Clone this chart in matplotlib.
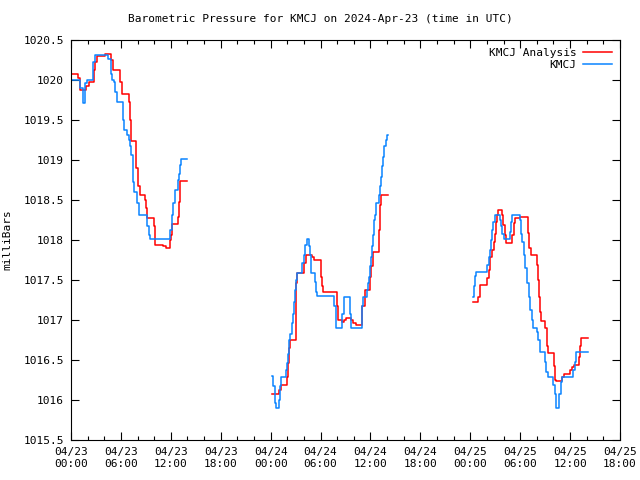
import numpy as np
import matplotlib.pyplot as plt

# hours since 2024-04-23 00:00 UTC, pressure in mbar
obs_t1 = [0.00, 1.08, 1.42, 1.68, 1.88, 2.62, 2.68, 2.85, 4.50, 4.78, 4.90, 5.21, 5.29,
          5.57, 6.20, 6.40, 6.68, 7.00, 7.09, 7.21, 7.41, 7.48, 7.57, 7.89, 7.97, 8.20,
          9.15, 9.35, 9.50, 11.90, 12.10, 12.25, 12.45, 12.90, 13.00, 13.10, 13.20, 13.90]
obs_p1 = [1020.00, 1019.90, 1019.71, 1019.96, 1020.00, 1020.09, 1020.23, 1020.31, 1020.26,
          1020.08, 1020.00, 1019.98, 1019.85, 1019.72, 1019.50, 1019.38, 1019.31, 1019.25,
          1019.17, 1019.06, 1018.92, 1018.73, 1018.60, 1018.56, 1018.46, 1018.31, 1018.17,
          1018.06, 1018.01, 1018.12, 1018.31, 1018.46, 1018.62, 1018.75, 1018.83, 1018.94,
          1019.01, 1019.01]
ana_t1 = [0.00, 0.90, 1.08, 1.80, 2.15, 2.72, 2.92, 3.10, 4.10, 4.82, 5.00, 5.93, 6.15,
          6.92, 7.10, 7.20, 7.85, 8.10, 8.30, 8.85, 8.97, 9.10, 9.95, 10.10, 11.00, 11.40,
          11.90, 12.00, 12.10, 12.85, 12.95, 13.05, 13.15, 13.90]
ana_p1 = [1020.08, 1020.02, 1019.88, 1019.92, 1019.98, 1020.12, 1020.23, 1020.30, 1020.33,
          1020.25, 1020.12, 1019.98, 1019.83, 1019.73, 1019.50, 1019.24, 1018.90, 1018.67,
          1018.56, 1018.50, 1018.40, 1018.27, 1018.17, 1017.94, 1017.92, 1017.90, 1018.00,
          1018.06, 1018.20, 1018.29, 1018.48, 1018.62, 1018.74, 1018.74]

obs_t2 = [24.19, 24.31, 24.52, 24.64, 24.98, 25.12, 25.24, 25.81, 25.92, 26.04, 26.16, 26.24,
          26.36, 26.52, 26.64, 26.76, 26.92, 27.04, 27.12, 27.80, 27.98, 28.18, 28.32, 28.61,
          28.75, 28.85, 28.91, 29.33, 29.48, 29.57, 31.65, 31.80, 31.91, 32.61, 32.79, 33.53,
          33.71, 35.01, 35.13, 35.54, 35.70, 35.88, 36.00, 36.09, 36.21, 36.30, 36.42, 36.49,
          36.72, 37.02, 37.20, 37.30, 37.41, 37.55, 37.68, 37.84, 38.00, 38.10]
obs_p2 = [1016.30, 1016.17, 1015.96, 1015.90, 1016.00, 1016.17, 1016.29, 1016.37, 1016.46,
          1016.58, 1016.71, 1016.75, 1016.83, 1016.96, 1017.08, 1017.23, 1017.38, 1017.50,
          1017.59, 1017.71, 1017.81, 1017.94, 1018.01, 1017.92, 1017.81, 1017.71, 1017.59,
          1017.48, 1017.35, 1017.30, 1017.17, 1017.02, 1016.90, 1017.08, 1017.29, 1017.08,
          1016.90, 1017.17, 1017.29, 1017.38, 1017.46, 1017.54, 1017.67, 1017.79, 1017.92,
          1018.06, 1018.25, 1018.31, 1018.46, 1018.56, 1018.67, 1018.79, 1018.92, 1019.04,
          1019.17, 1019.25, 1019.31, 1019.31]
ana_t2 = [24.19, 25.00, 25.20, 25.93, 26.05, 26.20, 26.32, 27.01, 27.05, 27.15, 28.00, 28.25,
          29.00, 29.21, 30.02, 30.20, 30.32, 31.94, 32.15, 32.54, 32.81, 33.05, 33.71, 33.95,
          34.26, 35.04, 35.34, 35.94, 36.12, 36.30, 37.00, 37.10, 37.19, 37.28, 38.14]
ana_p2 = [1016.08, 1016.12, 1016.19, 1016.29, 1016.46, 1016.65, 1016.75, 1017.10, 1017.46,
          1017.59, 1017.71, 1017.81, 1017.79, 1017.75, 1017.54, 1017.42, 1017.35, 1017.17,
          1017.00, 1016.98, 1017.00, 1017.03, 1017.00, 1016.96, 1016.94, 1017.17, 1017.38,
          1017.54, 1017.67, 1017.85, 1018.12, 1018.29, 1018.44, 1018.56, 1018.56]

obs_t3 = [48.32, 48.44, 48.59, 48.71, 50.04, 50.20, 50.32, 50.48, 50.66, 50.78, 50.94, 51.60,
          51.74, 51.86, 52.04, 52.73, 52.85, 52.98, 53.93, 54.09, 54.27, 54.45, 54.63, 54.81,
          55.05, 55.23, 55.41, 55.59, 55.97, 56.17, 56.37, 56.97, 57.15, 57.33, 57.97, 58.17,
          58.33, 58.69, 58.86, 59.04, 60.37, 60.55, 60.72, 62.18]
obs_p3 = [1017.29, 1017.42, 1017.55, 1017.60, 1017.69, 1017.79, 1017.88, 1018.00, 1018.12,
          1018.23, 1018.31, 1018.25, 1018.17, 1018.08, 1018.01, 1018.10, 1018.23, 1018.31,
          1018.25, 1018.08, 1017.98, 1017.81, 1017.65, 1017.46, 1017.29, 1017.13, 1017.00,
          1016.90, 1016.85, 1016.75, 1016.60, 1016.48, 1016.35, 1016.29, 1016.19, 1016.08,
          1015.90, 1016.08, 1016.23, 1016.29, 1016.37, 1016.48, 1016.60, 1016.60]
ana_t3 = [48.32, 48.98, 49.16, 50.00, 50.24, 50.42, 50.60, 50.82, 50.96, 51.08, 51.20, 51.32,
          51.86, 51.98, 52.16, 52.28, 53.06, 53.24, 53.43, 53.97, 54.97, 55.11, 55.29, 56.01,
          56.13, 56.21, 56.41, 56.49, 57.01, 57.19, 57.33, 58.09, 58.23, 58.35, 59.01, 59.25,
          60.04, 60.28, 60.46, 61.12, 61.24, 61.34, 62.18]
ana_p3 = [1017.22, 1017.29, 1017.44, 1017.52, 1017.62, 1017.79, 1017.88, 1017.98, 1018.08,
          1018.23, 1018.31, 1018.38, 1018.31, 1018.19, 1018.06, 1017.96, 1018.06, 1018.21,
          1018.27, 1018.29, 1018.09, 1017.90, 1017.81, 1017.69, 1017.50, 1017.29, 1017.10,
          1016.99, 1016.90, 1016.67, 1016.59, 1016.42, 1016.25, 1016.24, 1016.29, 1016.33,
          1016.37, 1016.41, 1016.44, 1016.54, 1016.67, 1016.78, 1016.78]

xtick_hours = list(range(0, 67, 6))
xtick_labels = ['04/23\n00:00', '04/23\n06:00', '04/23\n12:00', '04/23\n18:00',
                '04/24\n00:00', '04/24\n06:00', '04/24\n12:00', '04/24\n18:00',
                '04/25\n00:00', '04/25\n06:00', '04/25\n12:00', '04/25\n18:00']
ytick_vals = [1015.5, 1016, 1016.5, 1017, 1017.5, 1018, 1018.5, 1019, 1019.5, 1020, 1020.5]
ytick_labels = ['1015.5', '1016', '1016.5', '1017', '1017.5', '1018', '1018.5',
                '1019', '1019.5', '1020', '1020.5']

plt.rcParams['font.family'] = 'DejaVu Sans Mono'
plt.rcParams['font.size'] = 8

red = '#ff0000'
blue = '#0a84ff'

fig = plt.figure(figsize=(6.4, 4.8), dpi=100)
ax = fig.add_axes([71 / 640, 40 / 480, 549 / 640, 400 / 480])

for i, (t, p) in enumerate([(ana_t1, ana_p1), (ana_t2, ana_p2), (ana_t3, ana_p3)]):
    ax.plot(t, p, drawstyle='steps-post', color=red, lw=1.1,
            label='KMCJ Analysis' if i == 0 else None)
for i, (t, p) in enumerate([(obs_t1, obs_p1), (obs_t2, obs_p2), (obs_t3, obs_p3)]):
    ax.plot(t, p, drawstyle='steps-post', color=blue, lw=1.1,
            label='KMCJ' if i == 0 else None)

ax.set_xlim(0, 66)
ax.set_ylim(1015.5, 1020.5)
ax.set_xticks(xtick_hours)
ax.set_xticklabels(xtick_labels)
ax.set_xticks(np.arange(0, 67, 2), minor=True)
ax.set_yticks(ytick_vals)
ax.set_yticklabels(ytick_labels)
ax.tick_params(which='both', direction='in', top=True, right=True, width=0.8)
ax.tick_params(which='major', length=6, pad=5)
ax.tick_params(which='minor', length=3)
for s in ax.spines.values():
    s.set_linewidth(0.8)

ax.set_ylabel('milliBars', labelpad=8)
fig.text(0.5, 1 - 19 / 480, 'Barometric Pressure for KMCJ on 2024-Apr-23 (time in UTC)',
         ha='center', va='center')
ax.legend(loc='upper right', frameon=False, markerfirst=False, handlelength=2.6,
          borderaxespad=0.3, labelspacing=0.2, handletextpad=0.6)

plt.savefig('out.png')
